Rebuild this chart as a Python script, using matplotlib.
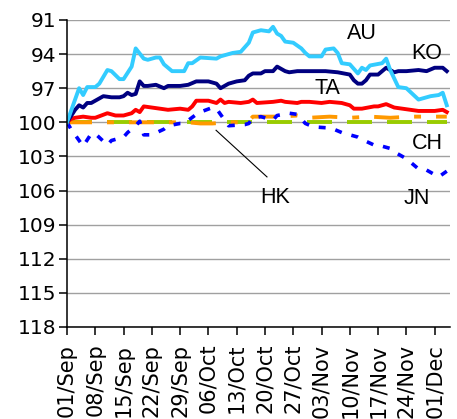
import pandas as pd
import matplotlib
matplotlib.use("Agg")
import matplotlib.pyplot as plt
import matplotlib.dates as mdates

plt.rcParams['font.family'] = ['Liberation Sans', 'DejaVu Sans']
plt.rcParams['font.size'] = 14
plt.rcParams['lines.scale_dashes'] = False

start = pd.Timestamp('2003-09-01')

# days counted from 01/Sep (axis is inverted)
au_days = [0, 3, 4, 5, 7, 8, 10, 11, 13, 14, 16, 17, 19, 20, 22, 23, 24, 25, 26, 29,
           30, 31, 33, 37, 38, 41, 43, 45, 46, 48, 50, 51, 52, 53, 54, 56, 58, 59, 60, 63,
           64, 66, 67, 68, 70, 72, 73, 74, 75, 78, 79, 80, 82, 84, 87, 90, 92, 93, 94]
au = [100, 97.0, 97.6, 96.9, 96.9, 96.6, 95.4, 95.5, 96.2, 96.2, 95.1, 93.5, 94.4, 94.5, 94.3, 94.3, 94.9, 95.2, 95.5, 95.5,
      94.8, 94.8, 94.3, 94.4, 94.2, 93.9, 93.8, 93.0, 92.1, 91.9, 92.0, 91.6, 92.2, 92.4, 92.9, 93.0, 93.5, 93.9, 94.2, 94.2,
      93.6, 93.5, 93.9, 94.8, 94.9, 95.7, 95.2, 95.4, 95.0, 94.8, 94.4, 95.4, 96.9, 97.0, 98.0, 97.7, 97.6, 97.4, 98.5]

ko_days = [0, 2, 3, 4, 5, 6, 8, 9, 11, 13, 14, 15, 16, 17, 18, 19, 20, 22, 24, 25,
           28, 30, 32, 35, 37, 38, 40, 42, 44, 45, 46, 48, 49, 51, 52, 54, 55, 57, 61, 64,
           67, 70, 71, 72, 73, 74, 75, 77, 79, 81, 82, 84, 87, 89, 91, 93, 94]
ko = [100, 98.9, 98.5, 98.7, 98.3, 98.3, 97.9, 97.7, 97.8, 97.8, 97.7, 97.4, 97.6, 97.5, 96.4, 96.8, 96.8, 96.7, 97.0, 96.8,
      96.8, 96.7, 96.4, 96.4, 96.6, 97.0, 96.6, 96.4, 96.3, 95.9, 95.7, 95.7, 95.5, 95.5, 95.1, 95.5, 95.6, 95.5, 95.5, 95.5,
      95.6, 95.8, 96.3, 96.6, 96.6, 96.3, 95.8, 95.8, 95.2, 95.6, 95.5, 95.5, 95.4, 95.5, 95.2, 95.2, 95.5]

ta_days = [0, 1, 2, 4, 6, 7, 10, 12, 14, 16, 17, 18, 19, 21, 23, 25, 28, 30, 31, 32,
           35, 37, 38, 39, 40, 43, 45, 46, 47, 51, 53, 54, 57, 58, 60, 63, 65, 68, 70, 71,
           73, 76, 77, 79, 81, 83, 87, 91, 93, 94]
ta = [100, 99.7, 99.6, 99.5, 99.6, 99.6, 99.2, 99.4, 99.4, 99.2, 98.9, 99.1, 98.6, 98.7, 98.8, 98.9, 98.8, 98.9, 98.6, 98.1,
      98.1, 98.3, 98.0, 98.3, 98.2, 98.3, 98.2, 98.0, 98.3, 98.2, 98.1, 98.2, 98.3, 98.2, 98.2, 98.3, 98.2, 98.3, 98.5, 98.8,
      98.8, 98.6, 98.6, 98.4, 98.7, 98.8, 99.0, 99.0, 98.9, 99.1]

jn_days = [0, 1, 3, 4, 6, 7, 10, 11, 14, 15, 17, 18, 19, 21, 24, 25, 28, 29, 32, 33,
           36, 37, 40, 44, 45, 46, 48, 51, 52, 55, 57, 59, 61, 65, 66, 68, 69, 72, 73, 76,
           77, 80, 81, 84, 85, 87, 89, 92, 94]
jn = [100, 100.6, 101.6, 102.1, 101.0, 101.0, 102.0, 101.6, 101.3, 100.9, 100.3, 99.9, 101.1, 101.1, 100.6, 100.3, 100.1, 100.1, 99.3, 99.1,
      98.7, 98.8, 100.3, 100.2, 100.1, 99.6, 99.5, 99.8, 99.4, 99.2, 99.3, 100.1, 100.4, 100.5, 100.6, 100.9, 101.0, 101.3, 101.5, 102.0,
      102.0, 102.3, 102.6, 103.2, 103.5, 104.1, 104.2, 104.8, 104.3]

ch_days = [0, 20, 40, 60, 80, 94]
ch = [100.0, 100.0, 100.0, 100.0, 100.0, 100.0]

hk_days = [0, 5, 10, 15, 20, 25, 30, 33, 36, 40, 43, 45, 46, 50, 53, 57, 60, 65, 70, 75, 80, 85, 90, 94]
hk = [100.0, 100.0, 100.0, 100.0, 100.0, 100.0, 100.0, 100.1, 100.1, 100.0, 100.0, 99.9, 99.5, 99.5, 99.5, 99.4,
      99.6, 99.5, 99.6, 99.5, 99.6, 99.5, 99.5, 99.5]

y_ticks = [91, 94, 97, 100, 103, 106, 109, 112, 115, 118]
tick_dates = pd.date_range('2003-09-01', '2003-12-01', freq='7D')


def to_dates(days):
    return start + pd.to_timedelta(days, unit='D')


fig = plt.figure(figsize=(4.57, 4.19), dpi=100)
ax = fig.add_axes([0.1466, 0.2196, 0.8381, 0.7327])

ax.plot(to_dates(ch_days), ch, color='#99CC00', lw=2.8, dashes=(18, 10.8), dash_capstyle='butt')
ax.plot(to_dates(hk_days), hk, color='#FF9900', lw=2.8, dashes=(18, 10.8, 5, 10.8), dash_capstyle='butt')
ax.plot(to_dates(jn_days), jn, color='#0000FF', lw=2.6, dashes=(5, 7.2), dash_capstyle='butt')
ax.plot(to_dates(ta_days), ta, color='#FF0000', lw=2.8)
ax.plot(to_dates(ko_days), ko, color='#000080', lw=2.8)
ax.plot(to_dates(au_days), au, color='#33CCFF', lw=2.8)

ax.set_ylim(118, 91)
ax.set_yticks(y_ticks)
ax.set_xlim(mdates.date2num(start), mdates.date2num(start) + 94.8)
ax.set_xticks(tick_dates)
ax.xaxis.set_major_formatter(mdates.DateFormatter('%d/%b'))
for t in ax.get_yticklabels():
    t.set_fontfamily('DejaVu Sans')
    t.set_fontsize(14.5)
for t in ax.get_xticklabels():
    t.set_fontfamily('DejaVu Sans')
    t.set_fontsize(15)
    t.set_rotation(90)

ax.grid(axis='y', color='#A0A0A0', lw=1.0)
ax.set_axisbelow(True)
for side in ['top', 'right']:
    ax.spines[side].set_visible(False)
for side in ['left', 'bottom']:
    ax.spines[side].set_linewidth(1.1)
ax.tick_params(axis='y', direction='out', length=6, width=1.1, pad=1.5)
ax.tick_params(axis='x', direction='out', length=6, width=1.1, pad=6)

lbl = dict(ha='center', va='baseline', fontsize=15.5)
ax.text(start + pd.Timedelta(days=73.0), 92.67, 'AU', **lbl)
ax.text(start + pd.Timedelta(days=89.1), 94.43, 'KO', **lbl)
ax.text(start + pd.Timedelta(days=64.4), 97.51, 'TA', **lbl)
ax.text(start + pd.Timedelta(days=89.1), 102.35, 'CH', **lbl)
ax.text(start + pd.Timedelta(days=86.6), 107.2, 'JN', **lbl)
ax.text(start + pd.Timedelta(days=51.5), 107.1, 'HK', **lbl)
ax.plot(to_dates([36.9, 49.5]), [100.7, 104.8], color='black', lw=0.8)

fig.savefig('out.png', dpi=100)
